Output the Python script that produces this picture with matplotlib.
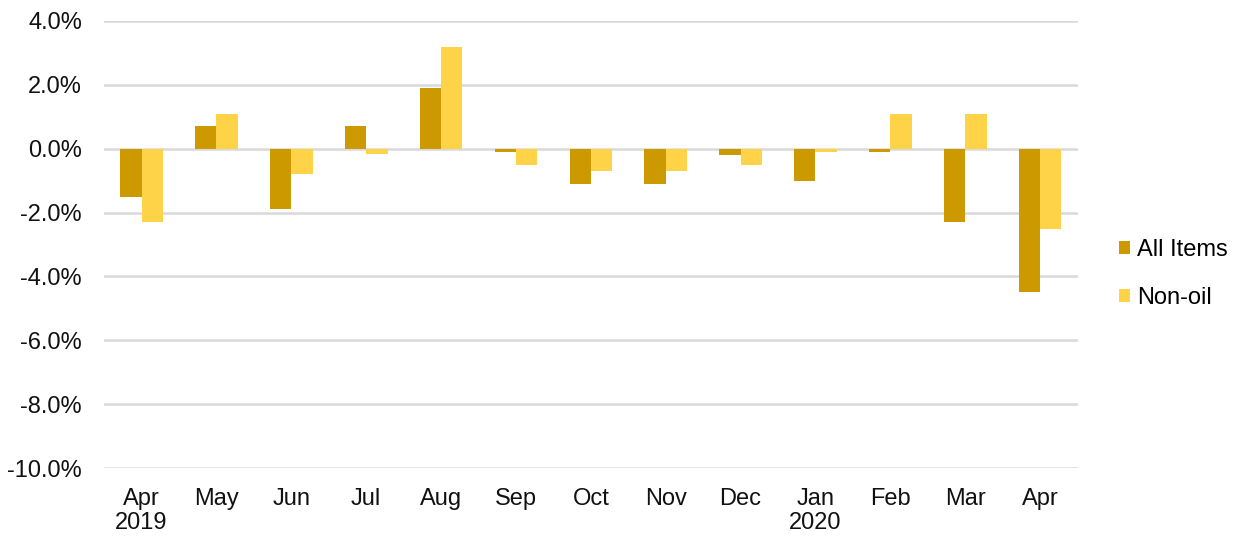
import matplotlib
matplotlib.use("Agg")
import matplotlib.pyplot as plt
import numpy as np
from matplotlib.ticker import FuncFormatter

plt.rcParams['font.family'] = ['Liberation Sans', 'DejaVu Sans']

categories = ["Apr\n2019", "May", "Jun", "Jul", "Aug", "Sep", "Oct", "Nov", "Dec", "Jan\n2020", "Feb", "Mar", "Apr"]
all_items = [-1.5, 0.7, -1.9, 0.7, 1.9, -0.1, -1.1, -1.1, -0.2, -1.0, -0.1, -2.3, -4.5]
non_oil = [-2.3, 1.1, -0.8, -0.15, 3.2, -0.5, -0.7, -0.7, -0.5, -0.1, 1.1, 1.1, -2.5]
yticks = [4, 2, 0, -2, -4, -6, -8, -10]

fig = plt.figure(figsize=(12.4, 5.38), dpi=100)
ax = fig.add_axes([0.084, 0.130, 0.785, 0.831])

fs = 17
x = np.arange(len(categories))
w = 0.285
ax.bar(x - w/2, all_items, w, color="#CC9900", label="All Items", zorder=3)
ax.bar(x + w/2, non_oil, w, color="#FFD347", label="Non-oil", zorder=3)

ax.set_xlim(-0.5, len(categories) - 0.5)
ax.set_ylim(-10, 4)
ax.set_yticks(yticks)
ax.yaxis.set_major_formatter(FuncFormatter(lambda v, p: f"{v:.1f}%"))
ax.set_xticks(x)
ax.set_xticklabels(categories, linespacing=1.15)
ax.grid(axis='y', color="#D9D9D9", linewidth=1.8, zorder=0)
for s in ax.spines.values():
    s.set_visible(False)
ax.tick_params(axis='both', length=0, labelsize=fs, colors="#111111")
ax.tick_params(axis='x', pad=14)
ax.tick_params(axis='y', pad=16)

ax.legend(loc='center left', bbox_to_anchor=(1.043, 0.434), frameon=False, fontsize=fs,
          borderaxespad=0, borderpad=0,
          handlelength=0.45, handleheight=0.45, handletextpad=0.3, labelspacing=1.1)

fig.savefig("out.png", dpi=100)
